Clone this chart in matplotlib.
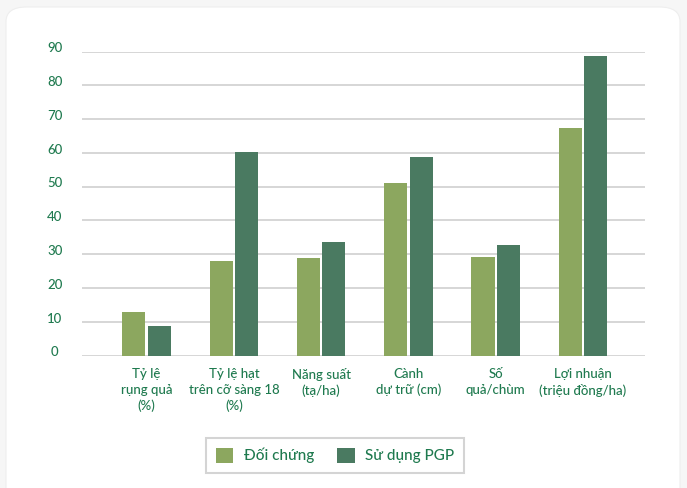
import numpy as np
import matplotlib
matplotlib.use("Agg")
import matplotlib.pyplot as plt
from matplotlib.patches import FancyBboxPatch
import matplotlib.transforms as mtransforms

categories = [
    "Tỷ lệ\nrụng quả\n(%)",
    "Tỷ lệ hạt\ntrên cỡ sàng 18\n(%)",
    "Năng suất\n(tạ/ha)",
    "Cành\ndự trữ (cm)",
    "Số\nquả/chùm",
    "Lợi nhuận\n(triệu đồng/ha)",
]
doi_chung = [13, 28, 29, 51, 29.3, 67.3]
su_dung_pgp = [8.8, 60.1, 33.6, 58.7, 32.6, 88.7]
series_names = ["Đối chứng", "Sử dụng PGP"]
yticks = list(range(0, 100, 10))

LIGHT = "#8ca75f"
DARK = "#4a7a61"
TEXT = "#1f7a4f"
GRID = "#d6d6d6"

plt.rcParams["font.family"] = ["Lato", "DejaVu Sans"]
plt.rcParams["font.weight"] = 500

fig = plt.figure(figsize=(6.87, 4.88), dpi=100)
fig.patch.set_facecolor("#f6f6f6")

# white card behind the chart
card = FancyBboxPatch((6 / 687, -0.05), 674 / 687, 1 - 7 / 488 + 0.05,
                      boxstyle="round,pad=0,rounding_size=0.03",
                      transform=fig.transFigure, facecolor="white",
                      edgecolor="#eeeeee", linewidth=0.8, zorder=-5)
fig.patches.append(card)

ax = fig.add_axes([82 / 687, 1 - 355.5 / 488, 563 / 687, 304 / 488])
ax.set_facecolor("none")
ax.set_zorder(2)

x = np.arange(len(categories))
w = 0.265
off = 0.146
ax.bar(x - off, doi_chung, w, color=LIGHT, label=series_names[0], zorder=3)
ax.bar(x + off, su_dung_pgp, w, color=DARK, label=series_names[1], zorder=3)

ax.set_ylim(0, 90)
ax.set_xlim(-0.74, 5.71)
ax.set_yticks(yticks)
for v in yticks:
    ax.axhline(v, color=GRID, linewidth=1.4, zorder=1)

for s in ax.spines.values():
    s.set_visible(False)

ax.tick_params(axis="y", length=0, pad=19.5, labelsize=9.5, labelcolor=TEXT)
for lbl in ax.get_yticklabels():
    lbl.set_horizontalalignment("center")
    lbl.set_transform(lbl.get_transform() + mtransforms.ScaledTranslation(0, 3 / 72, fig.dpi_scale_trans))

ax.set_xticks(x)
ax.set_xticklabels(categories, fontsize=9.5, color=TEXT, linespacing=1.35)
ax.tick_params(axis="x", length=0, pad=9)

fig.legend(loc="center", bbox_to_anchor=(335 / 687, 1 - 455.5 / 488), ncol=2,
           fontsize=11, labelcolor=TEXT, frameon=True, fancybox=False,
           edgecolor="#d4d4d4", handlelength=1.15, handleheight=1.15,
           handletextpad=0.7, columnspacing=1.5, borderpad=0.6,
           framealpha=1)
leg = fig.legends[0]
leg.get_frame().set_linewidth(1.5)
leg.set_zorder(3)

fig.savefig("out.png", dpi=100, facecolor=fig.get_facecolor())
